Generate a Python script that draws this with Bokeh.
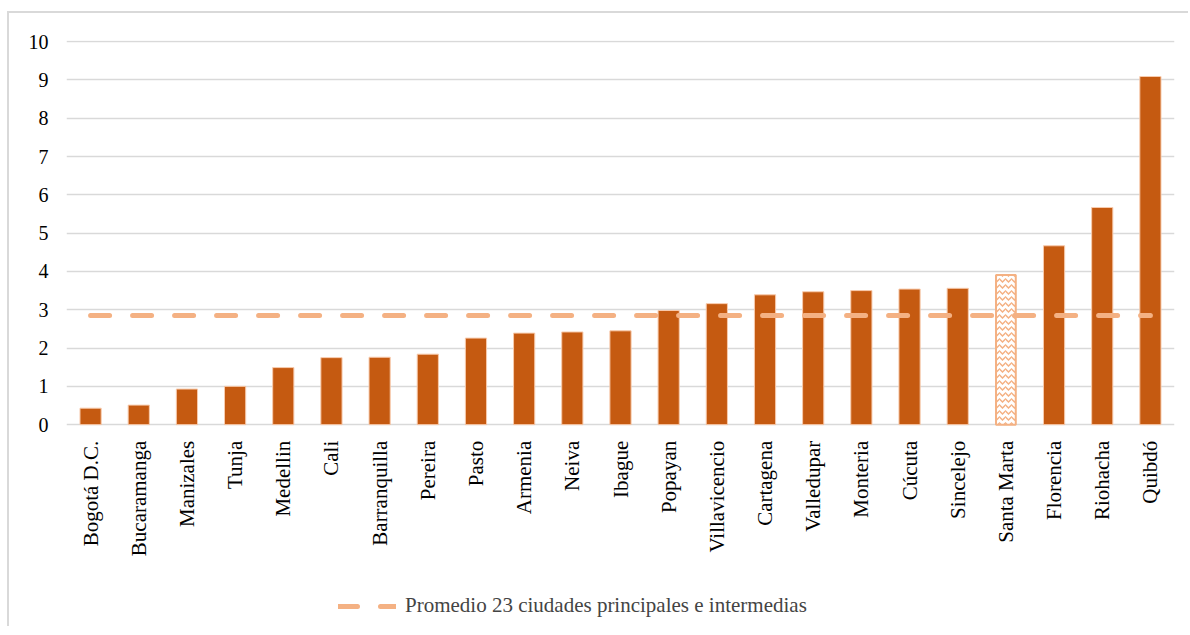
import math
from bokeh.plotting import figure
from bokeh.models import Range1d, FactorRange, Legend, LegendItem, FixedTicker
from bokeh.core.properties import value
from bokeh.embed import file_html
from bokeh.resources import INLINE

cities = ["Bogotá D.C.", "Bucaramanga", "Manizales", "Tunja", "Medellin", "Cali",
          "Barranquilla", "Pereira", "Pasto", "Armenia", "Neiva", "Ibague", "Popayan",
          "Villavicencio", "Cartagena", "Valledupar", "Monteria", "Cúcuta", "Sincelejo",
          "Santa Marta", "Florencia", "Riohacha", "Quibdó"]
values = [0.43, 0.51, 0.93, 1.00, 1.49, 1.75, 1.76, 1.84, 2.26, 2.39, 2.42, 2.45, 2.98,
          3.16, 3.39, 3.47, 3.50, 3.54, 3.56, 3.91, 4.67, 5.67, 9.09]
highlight = "Santa Marta"
average = 2.85
legend_label = "Promedio 23 ciudades principales e intermedias"
y_ticks = [0, 1, 2, 3, 4, 5, 6, 7, 8, 9, 10]

FONT = "Liberation Serif"
BAR = "#C55A11"
PEACH = "#F4B183"
GRID = "#D9D9D9"

# the frame reaches below zero so that the category names and the legend sit inside it
p = figure(x_range=FactorRange(*cities), y_range=Range1d(-5.27, 10.03),
           frame_width=1108, frame_height=586, output_backend="svg", toolbar_location=None,
           min_border_left=57, min_border_top=27, min_border_right=14, min_border_bottom=0)
p.styles = {"border-left": "2px solid #D9D9D9", "border-top": "2px solid #D9D9D9",
            "margin-left": "7px", "margin-top": "11px"}
p.outline_line_color = None
p.background_fill_color = "white"
p.border_fill_color = "white"

reg_x = [c for c in cities if c != highlight]
reg_y = [v for c, v in zip(cities, values) if c != highlight]
hi_y = [v for c, v in zip(cities, values) if c == highlight]

p.vbar(x=reg_x, top=reg_y, bottom=0, width=0.44, fill_color=BAR, line_color="#F8CBAD",
       line_width=1)
p.vbar(x=[highlight], top=hi_y, bottom=0, width=0.41, fill_color="white", line_color=PEACH,
       line_width=2, hatch_pattern="horizontal_wave", hatch_color=PEACH,
       hatch_scale=6, hatch_weight=1.5)

avg_line = p.line(x=cities, y=[average] * len(cities), line_color=PEACH, line_width=5,
                  line_dash="19 23", line_cap="round")

# category names, rotated, hanging just under the zero line
p.text(x=cities, y=[-0.42] * len(cities), text=cities, angle=math.pi / 2,
       text_align="right", text_baseline="middle", text_font=value(FONT),
       text_font_size="21px", text_color="#000000")

p.xgrid.grid_line_color = None
p.ygrid.ticker = FixedTicker(ticks=y_ticks)
p.ygrid.grid_line_color = GRID
p.ygrid.grid_line_width = 1.5
p.yaxis.ticker = FixedTicker(ticks=y_ticks)
p.yaxis.axis_line_color = None
p.yaxis.major_tick_line_color = None
p.yaxis.minor_tick_line_color = None
p.yaxis.major_label_standoff = 12
p.yaxis.major_label_text_font = FONT
p.yaxis.major_label_text_font_size = "20px"
p.yaxis.major_label_text_color = "#000000"
p.xaxis.visible = False

legend = Legend(items=[LegendItem(label=legend_label, renderers=[avg_line])],
                location=(272, 8), orientation="horizontal",
                border_line_color=None, background_fill_alpha=0,
                label_text_font=FONT, label_text_font_size="21px",
                glyph_width=58, label_standoff=9, padding=5, margin=0)
p.add_layout(legend, "center")

open("out.html", "w").write(file_html(p, INLINE))
